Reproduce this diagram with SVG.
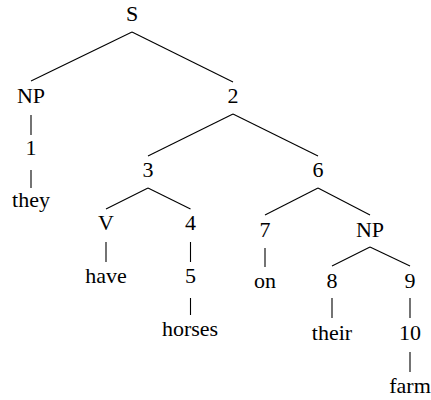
<svg xmlns="http://www.w3.org/2000/svg" width="431" height="400" viewBox="0 0 431 400">
<style>
.t text{font-family:"Liberation Serif","Times New Roman",serif;font-size:22px;fill:#000;text-anchor:middle}
.e line{stroke:#000;stroke-width:1.1;fill:none}
</style>
<rect width="431" height="400" fill="#fff"/>
<g class="e" id="edges">
<line x1="132" y1="32" x2="31" y2="81"/>
<line x1="132" y1="32" x2="233" y2="82"/>
<line x1="31" y1="115" x2="31" y2="135"/>
<line x1="31" y1="170" x2="31" y2="188"/>
<line x1="233" y1="114" x2="148" y2="156"/>
<line x1="233" y1="114" x2="318" y2="156"/>
<line x1="148" y1="188" x2="106" y2="209"/>
<line x1="148" y1="188" x2="190.5" y2="209"/>
<line x1="106" y1="242" x2="106" y2="262"/>
<line x1="190.5" y1="242" x2="190.5" y2="262"/>
<line x1="190.5" y1="298" x2="190.5" y2="315"/>
<line x1="318" y1="188" x2="265" y2="215"/>
<line x1="318" y1="188" x2="370" y2="215"/>
<line x1="265" y1="248" x2="265" y2="267"/>
<line x1="370" y1="247" x2="332" y2="266"/>
<line x1="370" y1="247" x2="410" y2="266"/>
<line x1="332" y1="298" x2="332" y2="318"/>
<line x1="410" y1="298" x2="410" y2="318"/>
<line x1="410" y1="352" x2="410" y2="372"/>
</g>
<g class="t" font-family="Liberation Serif" font-size="22" text-anchor="middle">
<g id="n-S"><text x="132" y="21">S</text></g>
<g id="n-NP1"><text x="31" y="103">NP</text></g>
<g id="n-2"><text x="233" y="103">2</text></g>
<g id="n-1"><text x="31" y="155">1</text></g>
<g id="n-they"><text x="31" y="207">they</text></g>
<g id="n-3"><text x="148" y="177">3</text></g>
<g id="n-6"><text x="318" y="177">6</text></g>
<g id="n-V"><text x="106" y="230">V</text></g>
<g id="n-4"><text x="190.5" y="230">4</text></g>
<g id="n-have"><text x="106" y="283">have</text></g>
<g id="n-5"><text x="190.5" y="283">5</text></g>
<g id="n-horses"><text x="190" y="336">horses</text></g>
<g id="n-7"><text x="265" y="237">7</text></g>
<g id="n-NP2"><text x="370" y="237">NP</text></g>
<g id="n-on"><text x="265" y="288">on</text></g>
<g id="n-8"><text x="332" y="288">8</text></g>
<g id="n-9"><text x="410" y="288">9</text></g>
<g id="n-their"><text x="332" y="340">their</text></g>
<g id="n-10"><text x="410" y="340">10</text></g>
<g id="n-farm"><text x="410" y="393">farm</text></g>
</g>
</svg>
